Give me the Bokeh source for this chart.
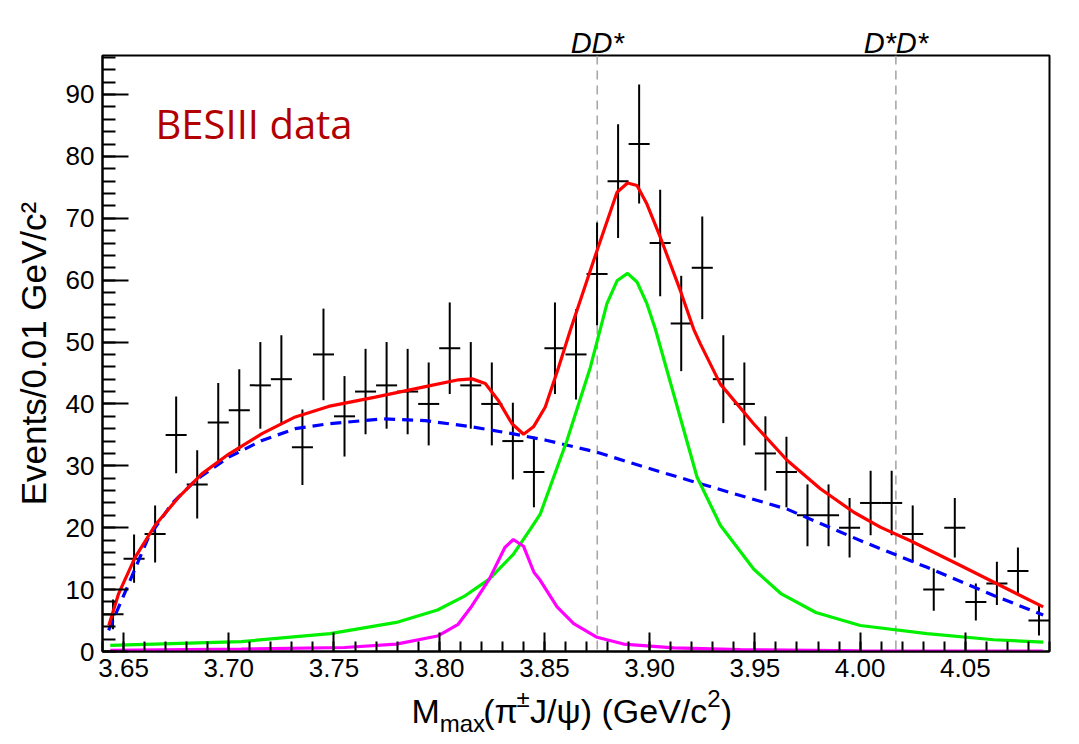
from bokeh.plotting import figure
from bokeh.models import (Label, SingleIntervalTicker, PrintfTickFormatter, Span,
                          LinearAxis, FixedTicker)
from bokeh.embed import file_html
from bokeh.resources import INLINE

# ---------------- data ----------------
bin_centers = [3.645, 3.655, 3.665, 3.675, 3.685, 3.695, 3.705, 3.715, 3.725, 3.735,
               3.745, 3.755, 3.765, 3.775, 3.785, 3.795, 3.805, 3.815, 3.825, 3.835,
               3.845, 3.855, 3.865, 3.875, 3.885, 3.895, 3.905, 3.915, 3.925, 3.935,
               3.945, 3.955, 3.965, 3.975, 3.985, 3.995, 4.005, 4.015, 4.025, 4.035,
               4.045, 4.055, 4.065, 4.075, 4.085]
counts = [6, 15, 19, 35, 27, 37, 39, 43, 44, 33,
          48, 38, 42, 43, 42, 40, 49, 43, 40, 34,
          29, 49, 48, 61, 76, 82, 66, 53, 62, 44,
          40, 32, 29, 22, 22, 20, 24, 24, 19, 10,
          20, 8, 11, 13, 5]
errors = [2.4, 3.9, 4.6, 6.2, 5.5, 6.4, 6.6, 7.0, 7.1, 6.1,
          7.4, 6.5, 6.9, 7.0, 6.9, 6.7, 7.4, 7.0, 6.7, 6.2,
          5.7, 7.4, 7.3, 8.3, 9.2, 9.6, 8.6, 7.7, 8.3, 7.1,
          6.7, 6.0, 5.7, 5.0, 5.0, 4.8, 5.2, 5.2, 4.6, 3.4,
          4.8, 3.0, 3.5, 3.8, 2.4]
bin_width = 0.01

total_x = [3.6430, 3.6476, 3.6555, 3.665, 3.6761, 3.6872, 3.700, 3.7158, 3.7316, 3.7474,
           3.7696, 3.7934, 3.8092, 3.8156, 3.8219, 3.8282, 3.8346, 3.8401, 3.8448, 3.8504,
           3.8567, 3.8623, 3.875, 3.8845, 3.8895, 3.894, 3.8987, 3.9051, 3.9146, 3.9209,
           3.9241, 3.9336, 3.9494, 3.9653, 3.9811, 3.997, 4.0096, 4.0239, 4.0477, 4.0714, 4.0870]
total_y = [4.2, 9.3, 15.2, 20.4, 24.9, 28.7, 31.9, 35.2, 37.9, 39.6,
           41.1, 42.8, 43.9, 44.05, 43.3, 40.5, 36.8, 35.1, 36.3, 39.5,
           45.9, 51.9, 64.8, 74.2, 75.7, 75.3, 72.3, 66.9, 58.3, 52.1,
           49.7, 43.2, 36.8, 30.9, 26.3, 22.5, 20.1, 17.9, 13.9, 9.85, 7.2]

bkg_x = [3.6429, 3.6524, 3.6619, 3.673, 3.684, 3.700, 3.7158, 3.7316, 3.7474, 3.7736,
         3.7934, 3.8156, 3.8346, 3.8513, 3.875, 3.8956, 3.9193, 3.9431, 3.9653, 4.0017,
         4.0318, 4.0635, 4.0870]
bkg_y = [3.4, 10.9, 18.5, 23.9, 27.6, 31.4, 34.1, 36.0, 36.8, 37.6,
         37.3, 36.3, 35.2, 34.1, 32.2, 30.0, 27.6, 25.2, 23.0, 17.7,
         13.6, 9.05, 5.9]

zc_x = [3.6437, 3.706, 3.7482, 3.7796, 3.7992, 3.8123, 3.8238, 3.8352, 3.8434, 3.848,
        3.8607, 3.8718, 3.8797, 3.8845, 3.8895, 3.894, 3.8987, 3.9027, 3.9114, 3.9225,
        3.9336, 3.9495, 3.9626, 3.979, 4.0001, 4.0318, 4.0635, 4.0870]
zc_y = [1.0, 1.6, 2.9, 4.7, 6.7, 9.0, 11.7, 15.7, 19.8, 22.2,
        34.1, 45.9, 56.2, 59.9, 61.1, 59.7, 56.2, 52.1, 41.6, 28.2,
        20.4, 13.3, 9.3, 6.3, 4.2, 2.9, 1.9, 1.5]

x2_x = [3.6437, 3.7059, 3.7551, 3.7796, 3.7992, 3.809, 3.8156, 3.8238, 3.8312, 3.8352,
        3.8401, 3.845, 3.848, 3.856, 3.8639, 3.875, 3.8876, 3.9114, 3.9431, 4.0, 4.0870]
x2_y = [0.2, 0.4, 0.65, 1.2, 2.5, 4.4, 7.4, 11.7, 16.8, 18.1,
        17.0, 12.8, 11.5, 7.2, 4.5, 2.3, 1.2, 0.6, 0.3, 0.1, 0.05]

threshold_names = ["DD*", "D*D*"]
threshold_masses = [3.8751, 4.017]

# ---------------- figure ----------------
X0, X1 = 3.64, 4.09
FRAME_W = 947
p = figure(width=1068, height=742, x_range=(X0, X1), y_range=(0, 96.3),
           output_backend="svg", toolbar_location=None,
           min_border_left=102, min_border_right=19, min_border_top=55, min_border_bottom=91)
p.background_fill_color = "white"
p.border_fill_color = "white"
p.outline_line_color = "black"
p.outline_line_width = 2
p.grid.visible = False

FONT = "Liberation Sans"

for ax in (p.xaxis[0], p.yaxis[0]):
    ax.axis_line_width = 2
    ax.axis_line_color = "black"
    ax.major_tick_line_color = "black"
    ax.minor_tick_line_color = "black"
    ax.major_tick_line_width = 2
    ax.minor_tick_line_width = 2
    ax.major_tick_out = 0
    ax.minor_tick_out = 0
    ax.major_label_text_font = FONT
    ax.major_label_text_font_size = "26px"
    ax.major_label_text_color = "black"

p.xaxis.ticker = SingleIntervalTicker(interval=0.05, num_minor_ticks=5)
p.xaxis.formatter = PrintfTickFormatter(format="%.2f")
p.xaxis.major_tick_in = 19
p.xaxis.minor_tick_in = 10
p.xaxis.major_label_standoff = 7

p.yaxis.ticker = SingleIntervalTicker(interval=10, num_minor_ticks=5)
p.yaxis.major_tick_in = 26
p.yaxis.minor_tick_in = 13
p.yaxis.major_label_standoff = 8
p.yaxis.axis_label = "Events/0.01 GeV/c\u00b2"
p.yaxis.axis_label_text_font = FONT
p.yaxis.axis_label_text_font_style = "normal"
p.yaxis.axis_label_text_font_size = "35px"
p.yaxis.axis_label_text_color = "black"
p.yaxis.axis_label_standoff = 10


def text_axis(positions, texts, size, standoff, style="normal"):
    """An axis without line or ticks, used only to place text pieces."""
    ax = LinearAxis(ticker=FixedTicker(ticks=positions, minor_ticks=[]),
                    major_label_overrides=dict(zip(positions, texts)))
    ax.axis_line_color = None
    ax.major_tick_line_color = None
    ax.minor_tick_line_color = None
    ax.major_tick_in = 0
    ax.major_tick_out = 0
    ax.minor_tick_in = 0
    ax.minor_tick_out = 0
    ax.major_label_standoff = standoff
    ax.major_label_text_font = FONT
    ax.major_label_text_font_size = size
    ax.major_label_text_font_style = style
    ax.major_label_text_color = "black"
    return ax


# threshold lines and their labels above the frame
for m in threshold_masses:
    p.add_layout(Span(location=m, dimension="height", line_color="#a8a8a8",
                      line_width=1.6, line_dash="9 6", level="underlay"))
p.add_layout(text_axis(threshold_masses, threshold_names, "29px", -3, "italic"), "above")

# data error bars
half = bin_width / 2
p.segment(x0=[c - half for c in bin_centers], x1=[c + half for c in bin_centers],
          y0=counts, y1=counts, line_color="black", line_width=2)
p.segment(x0=bin_centers, x1=bin_centers,
          y0=[c - e for c, e in zip(counts, errors)], y1=[c + e for c, e in zip(counts, errors)],
          line_color="black", line_width=2)

# fit curves
p.line(bkg_x, bkg_y, line_color="#0000ff", line_width=3.2, line_dash="11 7")
p.line(zc_x, zc_y, line_color="#00f000", line_width=3.2)
p.line(x2_x, x2_y, line_color="#ff00ff", line_width=3.2)
p.line(total_x, total_y, line_color="#ff0000", line_width=3.2)

# BESIII data tag
p.add_layout(Label(x=X0, y=0, x_offset=53, y_offset=528, text="BESIII data",
                   text_align="left", text_baseline="alphabetic", text_font="Open Sans",
                   text_font_size="40px", text_color="#b20000"))

# x-axis title: M_max(pi^{+-} J/psi) (GeV/c^2), pieces centred at pixel offsets from the frame left
px_per_unit = FRAME_W / (X1 - X0)
def at(px):
    return X0 + px / px_per_unit

sup_pos = [at(420.6), at(611.5)]
main_pos = [at(323.2), at(398.1), at(516.2), at(623.8)]
sub_pos = [at(359.9)]
p.add_layout(text_axis(sup_pos, ["\u00b1", "2"], "24px", 5), "below")
p.add_layout(text_axis(main_pos, ["M", "(\u03c0", "J/\u03c8) (GeV/c", ")"], "34px", -23), "below")
p.add_layout(text_axis(sub_pos, ["max"], "24px", -23), "below")

open("out.html", "w").write(file_html(p, INLINE))
